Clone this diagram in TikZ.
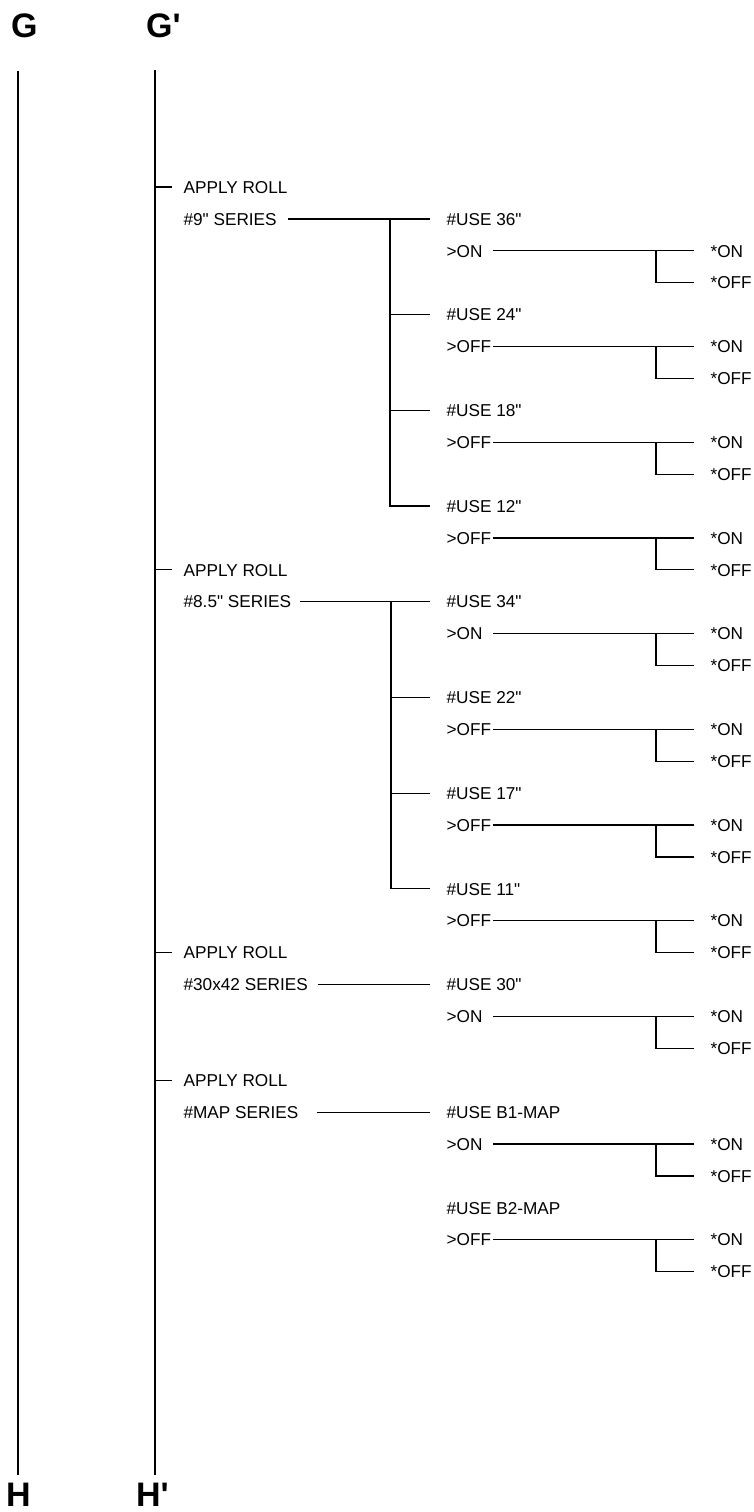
\documentclass[tikz,border=0pt]{standalone}
\usepackage{fontspec}
\setmainfont{Liberation Sans}[Ligatures=TeXOff]
\usetikzlibrary{positioning}

% one #USE entry with its >state line and the *ON / *OFF fork
\newcommand\usebranch[4]{%
  \node[menu] (#1) at (446,{187+31.9*#2}) {\#USE #3};
  \node[menu] (#1s) at (446,{187+31.9*(#2+1)}) {>#4};
  \node[menu] (#1on) at (710,{187+31.9*(#2+1)}) {*ON};
  \node[menu] (#1off) at (710,{187+31.9*(#2+2)}) {*OFF};
  \coordinate (#1k) at (656,{187+31.9*(#2+1)});
  \draw ([xshift=23.5pt]#1s.west) -- ([xshift=-8pt]#1on.west);
  \draw (#1k) |- ([xshift=-8pt]#1off.west);
}

\begin{document}
\begin{tikzpicture}[x=0.5pt,y=-0.5pt,line width=0.6pt]
  \tikzstyle{menu}=[anchor=west,inner sep=0pt,text height=6.2pt,text depth=0pt,
    font=\fontsize{8.6}{10}\selectfont]
  \tikzstyle{edge}=[anchor=west,inner sep=0pt,text height=12.2pt,text depth=0pt,
    font=\fontsize{17}{20}\selectfont\bfseries]
  \useasboundingbox (0,0) rectangle (754,1512);
  % page edges
  \node[edge] (g) at (10.5,25) {G};
  \node[edge] (gp) at (145.5,25) {G'};
  \node[edge] (h) at (5.5,1494) {H};
  \node[edge] (hp) at (135.5,1494) {H'};
  \coordinate (gtop) at (18,71);
  \coordinate (gbot) at (18,1475);
  \coordinate (gptop) at (155,70);
  \coordinate (gpbot) at (155,1475);
  \draw (gtop) -- (gbot);
  \draw (gptop) -- (gpbot);
  % 9" series
  \node[menu] (a1) at (183,187) {APPLY ROLL};
  \node[menu] (s1) at (183,{187+31.9}) {\#9" SERIES};
  \usebranch{ua}{1}{36"}{ON}
  \usebranch{ub}{4}{24"}{OFF}
  \usebranch{uc}{7}{18"}{OFF}
  \usebranch{ud}{10}{12"}{OFF}
  \coordinate (b1) at (390,{187+31.9});
  \draw (a1.west -| gptop) -- ([xshift=-5.5pt]a1.west);
  \draw ([xshift=5.5pt]s1.east) -- ([xshift=-8pt]ua.west);
  \draw (b1) -- (ud.west -| b1) -- ([xshift=-8pt]ud.west);
  \draw (ub.west -| b1) -- ([xshift=-8pt]ub.west);
  \draw (uc.west -| b1) -- ([xshift=-8pt]uc.west);
  % 8.5" series
  \node[menu] (a2) at (183,{187+31.9*12}) {APPLY ROLL};
  \node[menu] (s2) at (183,{187+31.9*13}) {\#8.5" SERIES};
  \usebranch{ue}{13}{34"}{ON}
  \usebranch{uf}{16}{22"}{OFF}
  \usebranch{ug}{19}{17"}{OFF}
  \usebranch{uh}{22}{11"}{OFF}
  \coordinate (b2) at (391,{187+31.9*13});
  \draw (a2.west -| gptop) -- ([xshift=-5.5pt]a2.west);
  \draw ([xshift=4pt]s2.east) -- ([xshift=-8pt]ue.west);
  \draw (b2) -- (uh.west -| b2) -- ([xshift=-8pt]uh.west);
  \draw (uf.west -| b2) -- ([xshift=-8pt]uf.west);
  \draw (ug.west -| b2) -- ([xshift=-8pt]ug.west);
  % 30x42 series
  \node[menu] (a3) at (183,{187+31.9*24}) {APPLY ROLL};
  \node[menu] (s3) at (183,{187+31.9*25}) {\#30x42 SERIES};
  \usebranch{ui}{25}{30"}{ON}
  \draw (a3.west -| gptop) -- ([xshift=-5.5pt]a3.west);
  \draw ([xshift=5pt]s3.east) -- ([xshift=-8pt]ui.west);
  % map series
  \node[menu] (a4) at (183,{187+31.9*28}) {APPLY ROLL};
  \node[menu] (s4) at (183,{187+31.9*29}) {\#MAP SERIES};
  \usebranch{uj}{29}{B1-MAP}{ON}
  \usebranch{uk}{32}{B2-MAP}{OFF}
  \draw (a4.west -| gptop) -- ([xshift=-5.5pt]a4.west);
  \draw ([xshift=9pt]s4.east) -- ([xshift=-8pt]uj.west);
\end{tikzpicture}
\end{document}
